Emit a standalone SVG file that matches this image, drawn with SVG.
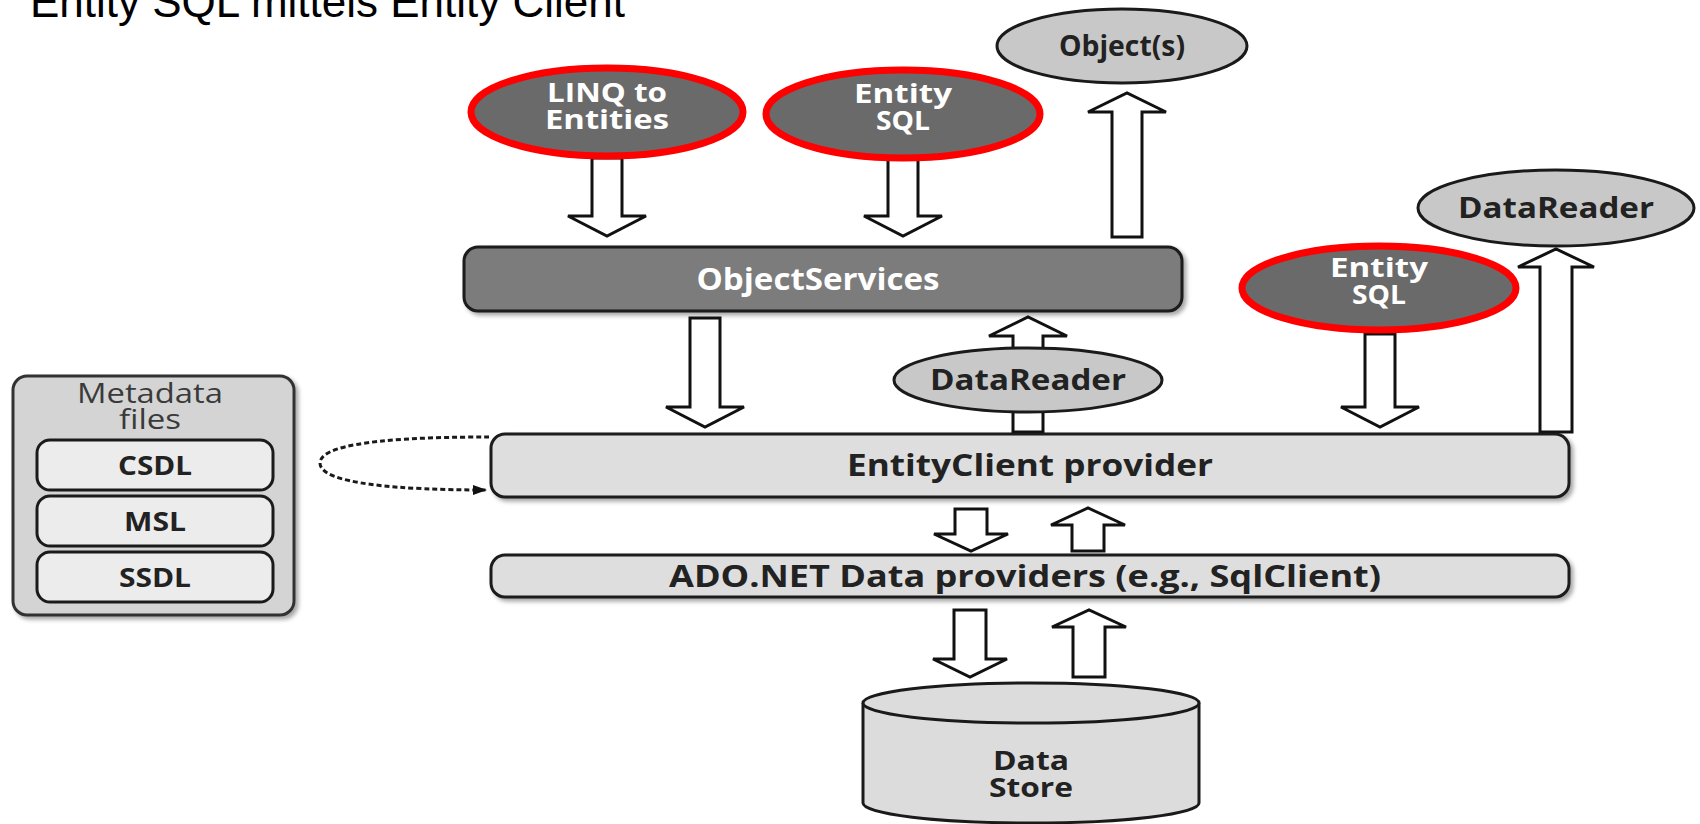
<svg xmlns="http://www.w3.org/2000/svg" width="1700" height="824" viewBox="0 0 1700 824">
  <defs>
    <filter id="shadow" x="-5%" y="-20%" width="115%" height="150%">
      <feDropShadow dx="3" dy="3" stdDeviation="2" flood-color="#000" flood-opacity="0.35"/>
    </filter>
    <marker id="dotHead" viewBox="0 0 14 10" refX="13" refY="5" markerWidth="14" markerHeight="10" markerUnits="userSpaceOnUse" orient="auto">
      <path d="M0,0 L14,5 L0,10 Z" fill="#111"/>
    </marker>
    <style>
      .title { font-family: "Liberation Sans", Arial, sans-serif; font-size: 44px; fill: #000; }
      .lbl { font-family: "Open Sans", "DejaVu Sans", sans-serif; font-weight: 700; text-anchor: middle; }
      .light { fill: #ffffff; }
      .dark { fill: #222222; }
      .query { fill: #6a6a6a; stroke: #ff0000; stroke-width: 7; }
      .result { fill: #c8c8c8; stroke: #1a1a1a; stroke-width: 3; }
      .layer { fill: #dedede; stroke: #1a1a1a; stroke-width: 3; filter: url(#shadow); }
      .svc { fill: #7b7b7b; stroke: #1a1a1a; stroke-width: 3; filter: url(#shadow); }
      .flow { fill: #ffffff; stroke: #111111; stroke-width: 3; stroke-linejoin: miter; }
      .meta { fill: #d4d4d4; stroke: #333333; stroke-width: 3; filter: url(#shadow); }
      .metaItem { fill: #ececec; stroke: #1a1a1a; stroke-width: 3; }
      .store { fill: #dcdcdc; stroke: #1a1a1a; stroke-width: 3; }
      .dotted { fill: none; stroke: #1a1a1a; stroke-width: 3; stroke-dasharray: 5 3; }
      .metaTitle { font-family: "Open Sans", "DejaVu Sans", sans-serif; font-size: 27px; fill: #3a3a3a; text-anchor: middle; }
    </style>
  </defs>

  <rect width="1700" height="824" fill="#ffffff"/>

  <text class="title" x="30" y="17">Entity SQL mittels Entity Client</text>

  <!-- hollow block arrows between layers -->
  <g id="connectors">
    <polygon class="flow" points="592,158 622,158 622,216 646,216 607,236 568,216 592,216"/>
    <polygon class="flow" points="888,158 918,158 918,216 942,216 903,236 864,216 888,216"/>
    <polygon class="flow" points="1112,237 1142,237 1142,112 1166,112 1127,93 1088,112 1112,112"/>
    <polygon class="flow" points="690,318 720,318 720,407 744,407 705,427 666,407 690,407"/>
    <polygon class="flow" points="1013,432 1043,432 1043,336 1067,336 1028,317 989,336 1013,336"/>
    <polygon class="flow" points="1365,334 1395,334 1395,407 1419,407 1380,427 1341,407 1365,407"/>
    <polygon class="flow" points="1540,432 1572,432 1572,267 1594,267 1556,249 1518,267 1540,267"/>
    <polygon class="flow" points="955,509 987,509 987,534 1008,534 971,551 934,534 955,534"/>
    <polygon class="flow" points="1072,551 1104,551 1104,525 1125,525 1088,508 1051,525 1072,525"/>
    <polygon class="flow" points="954,610 986,610 986,659 1007,659 970,677 933,659 954,659"/>
    <polygon class="flow" points="1073,677 1105,677 1105,627 1126,627 1089,610 1052,627 1073,627"/>
    <path class="dotted" d="M 489 437 C 420 437, 320 440, 320 463 C 320 484, 400 490, 486 490" marker-end="url(#dotHead)"/>
  </g>

  <g id="linq-to-entities">
    <ellipse class="query" cx="607" cy="112" rx="136" ry="44"/>
    <text class="lbl light" x="607" y="102" font-size="27" textLength="120" lengthAdjust="spacingAndGlyphs">LINQ to</text>
    <text class="lbl light" x="607" y="129" font-size="27" textLength="124" lengthAdjust="spacingAndGlyphs">Entities</text>
  </g>

  <g id="entity-sql-top">
    <ellipse class="query" cx="903" cy="114" rx="137" ry="44"/>
    <text class="lbl light" x="903" y="103" font-size="27" textLength="98" lengthAdjust="spacingAndGlyphs">Entity</text>
    <text class="lbl light" x="903" y="130" font-size="27" textLength="54" lengthAdjust="spacingAndGlyphs">SQL</text>
  </g>

  <g id="objects">
    <ellipse class="result" cx="1122" cy="46" rx="125" ry="37"/>
    <text class="lbl dark" x="1122" y="56" font-size="28" textLength="126" lengthAdjust="spacingAndGlyphs">Object(s)</text>
  </g>

  <g id="object-services">
    <rect class="svc" x="464" y="247" width="718" height="64" rx="14"/>
    <text class="lbl light" x="818" y="290" font-size="30" textLength="243" lengthAdjust="spacingAndGlyphs">ObjectServices</text>
  </g>

  <g id="datareader-mid">
    <ellipse class="result" cx="1028" cy="380" rx="134" ry="32"/>
    <text class="lbl dark" x="1028" y="390" font-size="29" textLength="196" lengthAdjust="spacingAndGlyphs">DataReader</text>
  </g>

  <g id="entity-sql-right">
    <ellipse class="query" cx="1379" cy="288" rx="137" ry="42"/>
    <text class="lbl light" x="1379" y="277" font-size="27" textLength="98" lengthAdjust="spacingAndGlyphs">Entity</text>
    <text class="lbl light" x="1379" y="304" font-size="27" textLength="54" lengthAdjust="spacingAndGlyphs">SQL</text>
  </g>

  <g id="datareader-right">
    <ellipse class="result" cx="1556" cy="208" rx="138" ry="38"/>
    <text class="lbl dark" x="1556" y="218" font-size="29" textLength="196" lengthAdjust="spacingAndGlyphs">DataReader</text>
  </g>

  <g id="entityclient-provider">
    <rect class="layer" x="491" y="434" width="1078" height="63" rx="14"/>
    <text class="lbl dark" x="1030" y="476" font-size="30" textLength="366" lengthAdjust="spacingAndGlyphs">EntityClient provider</text>
  </g>

  <g id="adonet-providers">
    <rect class="layer" x="491" y="555" width="1078" height="42" rx="14"/>
    <text class="lbl dark" x="1025" y="587" font-size="30" textLength="712" lengthAdjust="spacingAndGlyphs">ADO.NET Data providers (e.g., SqlClient)</text>
  </g>

  <g id="metadata-files">
    <rect class="meta" x="13" y="376" width="281" height="239" rx="14"/>
    <text class="metaTitle" x="150" y="403" textLength="146" lengthAdjust="spacingAndGlyphs">Metadata</text>
    <text class="metaTitle" x="150" y="429" textLength="62" lengthAdjust="spacingAndGlyphs">files</text>
    <rect class="metaItem" x="37" y="440" width="236" height="50" rx="13"/>
    <text class="lbl dark" x="155" y="475" font-size="27" textLength="74" lengthAdjust="spacingAndGlyphs">CSDL</text>
    <rect class="metaItem" x="37" y="496" width="236" height="50" rx="13"/>
    <text class="lbl dark" x="155" y="531" font-size="27" textLength="62" lengthAdjust="spacingAndGlyphs">MSL</text>
    <rect class="metaItem" x="37" y="552" width="236" height="50" rx="13"/>
    <text class="lbl dark" x="155" y="587" font-size="27" textLength="72" lengthAdjust="spacingAndGlyphs">SSDL</text>
  </g>

  <g id="data-store">
    <path class="store" d="M 863 703 V 803 A 168 20 0 0 0 1199 803 V 703"/>
    <ellipse class="store" cx="1031" cy="703" rx="168" ry="20"/>
    <text class="lbl dark" x="1031" y="770" font-size="27" textLength="76" lengthAdjust="spacingAndGlyphs">Data</text>
    <text class="lbl dark" x="1031" y="797" font-size="27" textLength="84" lengthAdjust="spacingAndGlyphs">Store</text>
  </g>
</svg>
